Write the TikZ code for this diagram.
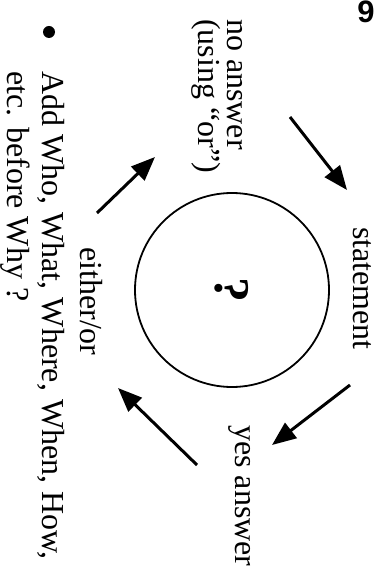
\documentclass[tikz,border=0pt]{standalone}
\usepackage{fontspec}
\setmainfont{Liberation Serif}
\newfontfamily\pagenumfont{Liberation Sans}
\usetikzlibrary{arrows.meta}

\begin{document}
\begin{tikzpicture}[
  x=1pt,
  y=-1pt,
  sidetext/.style={
    rotate=-90,
    anchor=base west,
    inner sep=0pt,
    align=left,
    font=\fontsize{32}{29}\selectfont
  },
  bullettext/.style={
    sidetext,
    font=\fontsize{32}{35}\selectfont
  },
  cyclearrow/.style={
    line width=3pt,
    -{Triangle[length=24pt,width=19pt]}
  }
]

% Canvas, same shape as the scan
\clip (0,0) rectangle (385,569);

% Page number
\node[font=\pagenumfont\bfseries\fontsize{31}{31}\selectfont,
  anchor=base, inner sep=0pt] (pagenum) at (366,23) {9};

% Circle with the question mark
\node[circle, draw, line width=1.8pt, minimum size=194pt, inner sep=0pt,
  rotate=-90, font=\bfseries\fontsize{50}{50}\selectfont] (hub) at (232,290) {?};

% Labels round the circle (base = last line)
\node[sidetext] (statement) at (353,227) {statement};
\node[sidetext] (yesanswer) at (235,425) {yes answer};
\node[sidetext] (eitheror) at (80,247) {either/or};
\node[sidetext] (noanswer) at (198,19) {no answer\\(using “or”)};

% Arrows going round
\coordinate (a1s) at (290,117);
\coordinate (a1e) at (347,190);
\coordinate (a2s) at (350,385);
\coordinate (a2e) at (272,445);
\coordinate (a3s) at (197,465);
\coordinate (a3e) at (118,388);
\coordinate (a4s) at (97,213);
\coordinate (a4e) at (155,157);

\draw[cyclearrow] (a1s) -- (a1e);
\draw[cyclearrow] (a2s) -- (a2e);
\draw[cyclearrow] (a3s) -- (a3e);
\draw[cyclearrow] (a4s) -- (a4e);

% Bullet point
\fill (49,32) circle (6);
\node[bullettext] (hint) at (7,71)
  {Add Who, What, Where, When, How,\\etc. before Why ?};

\end{tikzpicture}
\end{document}
